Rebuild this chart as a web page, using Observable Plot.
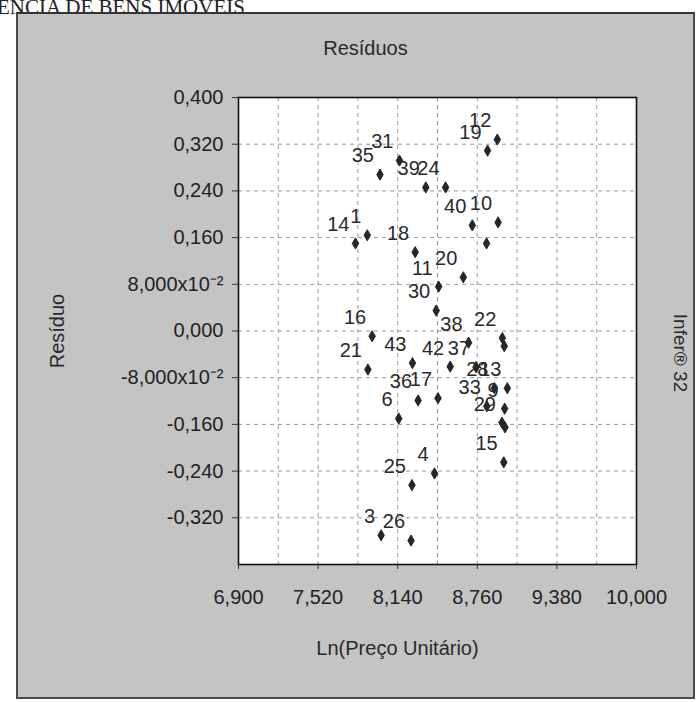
<!DOCTYPE html>
<html>
<head>
<meta charset="utf-8">
<script src="https://cdn.jsdelivr.net/npm/d3@7"></script>
<script src="https://cdn.jsdelivr.net/npm/@observablehq/plot@0.6"></script>
<style>
  html, body { margin: 0; padding: 0; background: #fff; width: 696px; height: 702px; overflow: hidden; }
  #head { position: absolute; left: -3px; top: -5px; font-family: "Liberation Serif", "Times New Roman", serif; font-size: 21px; color: #222; white-space: nowrap; }
  #panel { position: absolute; left: 16px; top: 12px; width: 675px; height: 683px; background: #c4c4c4; border: 2px solid #4a4a4a; border-top-color: #333; }
  #chart { position: absolute; left: 0; top: 0; }
</style>
</head>
<body>
<div id="head">ÊNCIA DE BENS IMÓVEIS</div>
<div id="panel"></div>
<div id="chart"></div>
<script>
// Residuals vs Ln(Preço Unitário)
const labels = ["12","19","35","31","39","24","40","10","","14","1","18","20","11","30","16","38","22","","21","43","42","37","36","17","6","28","13","33","9","29","","15","4","25","3","26"];
const lnPreco = [8.916,8.840,8.002,8.154,8.359,8.513,8.721,8.922,8.832,7.811,7.903,8.276,8.651,8.459,8.440,7.941,8.692,8.955,8.970,7.908,8.255,8.549,8.750,8.299,8.454,8.148,8.893,8.994,8.834,8.973,8.952,8.976,8.966,8.427,8.251,8.011,8.244];
const residuo = [0.328,0.309,0.268,0.292,0.246,0.246,0.181,0.186,0.150,0.150,0.164,0.135,0.092,0.076,0.035,-0.009,-0.020,-0.012,-0.026,-0.066,-0.055,-0.061,-0.062,-0.119,-0.115,-0.150,-0.098,-0.098,-0.129,-0.133,-0.157,-0.165,-0.225,-0.244,-0.264,-0.350,-0.359];

const xTicks = [6.9, 7.52, 8.14, 8.76, 9.38, 10.0];
const xTickLabels = ["6,900","7,520","8,140","8,760","9,380","10,000"];
const xGrid = [7.21, 7.52, 7.83, 8.14, 8.45, 8.76, 9.07, 9.38, 9.69];
const yTicks = [0.4, 0.32, 0.24, 0.16, 0.08, 0, -0.08, -0.16, -0.24, -0.32];
const yTickLabels = ["0,400","0,320","0,240","0,160","8,000x10⁻²","0,000","-8,000x10⁻²","-0,160","-0,240","-0,320"];
const yGrid = [0.32, 0.24, 0.16, 0.08, 0, -0.08, -0.16, -0.24, -0.32];

const pts = labels.map((l, i) => ({label: l, x: lnPreco[i], y: residuo[i]}));

const chart = Plot.plot({
  width: 696,
  height: 702,
  marginLeft: 238,
  marginRight: 60,
  marginTop: 97,
  marginBottom: 138,
  style: {fontFamily: "'Liberation Sans', Arial, sans-serif", fontSize: "20px", background: "transparent", color: "#222", overflow: "visible"},
  x: {domain: [6.9, 10.0]},
  y: {domain: [-0.4, 0.4]},
  marks: [
    Plot.frame({fill: "white"}),
    Plot.ruleX(xGrid, {stroke: "#999", strokeDasharray: "4,4", strokeWidth: 1}),
    Plot.ruleY(yGrid, {stroke: "#999", strokeDasharray: "4,4", strokeWidth: 1}),
    Plot.frame({stroke: "#111", strokeWidth: 1.6}),
    Plot.axisX(xTicks, {tickSize: 5, tickPadding: 20, tickFormat: (d, i) => xTickLabels[i], label: null, fontSize: 20, stroke: "#333"}),
    Plot.axisY(yTicks, {tickSize: 6, tickPadding: 9, tickFormat: (d, i) => yTickLabels[i], label: null, fontSize: 20, stroke: "#333"}),
    Plot.dot(pts, {x: "x", y: "y", symbol: "diamond", r: 3.4, fill: "#262626", stroke: "#262626", strokeWidth: 1}),
    Plot.text(pts, {x: "x", y: "y", text: "label", textAnchor: "end", dx: -6, dy: -18.5, fontSize: 20, fill: "#2a2a2a"}),
    Plot.text(["Resíduos"], {frameAnchor: "top", textAnchor: "middle", lineAnchor: "middle", dx: -72, dy: -49, fontSize: 20, fill: "#2a2a2a"}),
    Plot.text(["Resíduo"], {frameAnchor: "left", textAnchor: "middle", lineAnchor: "middle", dx: -181, dy: 0, rotate: -90, fontSize: 20, fill: "#2a2a2a"}),
    Plot.text(["Ln(Preço Unitário)"], {frameAnchor: "bottom", textAnchor: "middle", lineAnchor: "middle", dx: -40, dy: 84, fontSize: 20, fill: "#2a2a2a"}),
    Plot.text(["Infer® 32"], {frameAnchor: "right", textAnchor: "middle", lineAnchor: "middle", dx: 44, dy: 22, rotate: 90, fontSize: 19, fill: "#2a2a2a"})
  ]
});
document.getElementById("chart").appendChild(chart);
</script>
</body>
</html>
